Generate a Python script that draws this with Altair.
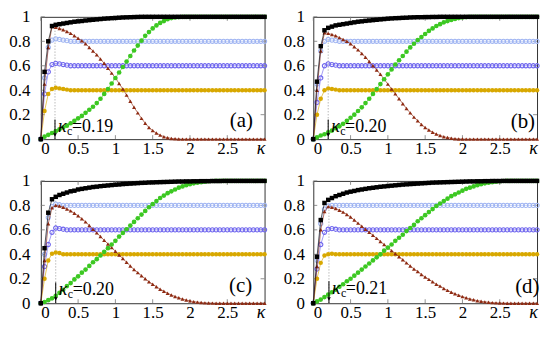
import altair as alt
import pandas as pd

# kappa grid
K = [round(0.05 * i, 2) for i in range(61)]

# ---------------- panel (a) ----------------
A_BLACK = [0, 0.55, 0.80, 0.925, 0.935, 0.94, 0.945, 0.95, 0.955, 0.96,
           0.963, 0.966, 0.97, 0.973, 0.976, 0.979, 0.982, 0.985, 0.987, 0.989,
           0.991, 0.993, 0.995, 0.996, 0.997, 0.998, 0.999, 1, 1, 1,
           1, 1, 1, 1, 1, 1, 1, 1, 1, 1,
           1, 1, 1, 1, 1, 1, 1, 1, 1, 1,
           1, 1, 1, 1, 1, 1, 1, 1, 1, 1, 1]
A_RED = [0, 0.45, 0.75, 0.92, 0.915, 0.905, 0.895, 0.88, 0.865, 0.845,
         0.825, 0.805, 0.78, 0.75, 0.72, 0.69, 0.655, 0.62, 0.58, 0.54,
         0.50, 0.455, 0.41, 0.36, 0.31, 0.26, 0.215, 0.17, 0.13, 0.095,
         0.07, 0.05, 0.033, 0.02, 0.012, 0.006, 0.003, 0.001, 0, 0,
         0, 0, 0, 0, 0, 0, 0, 0, 0, 0,
         0, 0, 0, 0, 0, 0, 0, 0, 0, 0, 0]
A_GREEN = [0, 0.02, 0.035, 0.05, 0.065, 0.08, 0.095, 0.11, 0.13, 0.15,
           0.17, 0.19, 0.215, 0.24, 0.265, 0.295, 0.33, 0.37, 0.41, 0.455,
           0.50, 0.545, 0.59, 0.635, 0.68, 0.725, 0.765, 0.805, 0.845, 0.875,
           0.905, 0.93, 0.95, 0.965, 0.98, 0.99, 0.995, 0.998, 1, 1,
           1, 1, 1, 1, 1, 1, 1, 1, 1, 1,
           1, 1, 1, 1, 1, 1, 1, 1, 1, 1, 1]
A_LB = [0, 0.5, 0.75, 0.81, 0.82, 0.815, 0.81, 0.805] + [0.8] * 53
A_PU = [0, 0.37, 0.55, 0.61, 0.62, 0.615, 0.61, 0.605] + [0.6] * 53
A_GO = [0, 0.23, 0.37, 0.41, 0.42, 0.415, 0.41, 0.405] + [0.4] * 53

# ---------------- panel (b) ----------------
B_BLACK = [0, 0.47, 0.76, 0.89, 0.91, 0.92, 0.93, 0.935, 0.94, 0.945,
           0.95, 0.955, 0.96, 0.963, 0.967, 0.97, 0.973, 0.976, 0.979, 0.982,
           0.985, 0.987, 0.989, 0.99, 0.992, 0.993, 0.995, 0.996, 0.997, 0.997,
           0.998, 0.998, 0.999, 0.999, 1, 1, 1, 1, 1, 1,
           1, 1, 1, 1, 1, 1, 1, 1, 1, 1,
           1, 1, 1, 1, 1, 1, 1, 1, 1, 1, 1]
B_RED = [0, 0.4, 0.72, 0.87, 0.865, 0.855, 0.845, 0.83, 0.815, 0.80,
         0.78, 0.755, 0.73, 0.70, 0.67, 0.635, 0.60, 0.565, 0.53, 0.49,
         0.45, 0.41, 0.37, 0.33, 0.29, 0.25, 0.215, 0.18, 0.15, 0.12,
         0.095, 0.075, 0.057, 0.042, 0.03, 0.02, 0.013, 0.008, 0.004, 0.002,
         0.001, 0, 0, 0, 0, 0, 0, 0, 0, 0,
         0, 0, 0, 0, 0, 0, 0, 0, 0, 0, 0]
B_GREEN = [0, 0.015, 0.03, 0.04, 0.055, 0.07, 0.09, 0.105, 0.125, 0.15,
           0.175, 0.2, 0.23, 0.26, 0.295, 0.33, 0.37, 0.41, 0.45, 0.49,
           0.53, 0.57, 0.61, 0.645, 0.68, 0.715, 0.75, 0.78, 0.81, 0.835,
           0.86, 0.885, 0.905, 0.925, 0.94, 0.955, 0.965, 0.975, 0.983, 0.99,
           0.995, 0.998, 1, 1, 1, 1, 1, 1, 1, 1,
           1, 1, 1, 1, 1, 1, 1, 1, 1, 1, 1]
B_LB = [0, 0.45, 0.72, 0.80, 0.815, 0.81, 0.805] + [0.8] * 54
B_PU = [0, 0.3, 0.5, 0.6, 0.615, 0.61, 0.605] + [0.6] * 54
B_GO = [0, 0.2, 0.33, 0.4, 0.415, 0.41, 0.405] + [0.4] * 54

# ---------------- panel (c) ----------------
C_BLACK = [0, 0.45, 0.74, 0.85, 0.87, 0.885, 0.895, 0.905, 0.915, 0.92,
           0.93, 0.935, 0.94, 0.945, 0.95, 0.953, 0.957, 0.96, 0.963, 0.966,
           0.969, 0.971, 0.974, 0.976, 0.978, 0.98, 0.982, 0.984, 0.985, 0.987,
           0.988, 0.989, 0.99, 0.991, 0.992, 0.993, 0.994, 0.995, 0.995, 0.996,
           0.996, 0.997, 0.997, 0.998, 0.998, 0.998, 0.999, 0.999, 0.999, 1,
           1, 1, 1, 1, 1, 1, 1, 1, 1, 1, 1]
C_RED = [0, 0.35, 0.65, 0.78, 0.80, 0.795, 0.785, 0.77, 0.755, 0.735,
         0.715, 0.69, 0.665, 0.635, 0.605, 0.575, 0.545, 0.515, 0.485, 0.455,
         0.425, 0.395, 0.365, 0.335, 0.305, 0.275, 0.25, 0.225, 0.2, 0.175,
         0.155, 0.135, 0.115, 0.098, 0.082, 0.068, 0.055, 0.044, 0.034, 0.026,
         0.019, 0.013, 0.009, 0.006, 0.003, 0.002, 0.001, 0, 0, 0,
         0, 0, 0, 0, 0, 0, 0, 0, 0, 0, 0]
C_GREEN = [0, 0.01, 0.025, 0.04, 0.06, 0.085, 0.11, 0.14, 0.165, 0.195,
           0.22, 0.25, 0.275, 0.305, 0.335, 0.36, 0.39, 0.42, 0.45, 0.48,
           0.51, 0.545, 0.575, 0.605, 0.635, 0.665, 0.695, 0.725, 0.755, 0.785,
           0.81, 0.835, 0.86, 0.88, 0.9, 0.915, 0.93, 0.945, 0.955, 0.965,
           0.973, 0.98, 0.986, 0.99, 0.994, 0.997, 0.999, 1, 1, 1,
           1, 1, 1, 1, 1, 1, 1, 1, 1, 1, 1]
C_LB = [0, 0.4, 0.7, 0.79, 0.81, 0.805] + [0.8] * 55
C_PU = [0, 0.3, 0.48, 0.58, 0.615, 0.61, 0.605] + [0.6] * 54
C_GO = [0, 0.2, 0.35, 0.405, 0.415, 0.41] + [0.4] * 55

# ---------------- panel (d) ----------------
D_BLACK = [0, 0.38, 0.68, 0.82, 0.845, 0.86, 0.875, 0.885, 0.895, 0.905,
           0.912, 0.918, 0.925, 0.93, 0.935, 0.94, 0.944, 0.948, 0.952, 0.955,
           0.958, 0.961, 0.964, 0.967, 0.97, 0.972, 0.974, 0.976, 0.978, 0.98,
           0.982, 0.984, 0.986, 0.987, 0.988, 0.989, 0.99, 0.991, 0.992, 0.993,
           0.994, 0.995, 0.996, 0.996, 0.997, 0.997, 0.998, 0.998, 0.999, 0.999,
           0.999, 1, 1, 1, 1, 1, 1, 1, 1, 1, 1]
D_RED = [0, 0.3, 0.6, 0.75, 0.79, 0.785, 0.775, 0.76, 0.745, 0.725,
         0.705, 0.68, 0.655, 0.63, 0.605, 0.58, 0.555, 0.53, 0.505, 0.48,
         0.455, 0.43, 0.405, 0.38, 0.355, 0.33, 0.305, 0.28, 0.26, 0.235,
         0.215, 0.195, 0.175, 0.155, 0.14, 0.12, 0.105, 0.09, 0.077, 0.065,
         0.054, 0.044, 0.035, 0.028, 0.021, 0.016, 0.011, 0.008, 0.005, 0.003,
         0.002, 0.001, 0, 0, 0, 0, 0, 0, 0, 0, 0]
D_GREEN = [0, 0.015, 0.03, 0.05, 0.07, 0.09, 0.11, 0.135, 0.155, 0.18,
           0.2, 0.225, 0.25, 0.275, 0.3, 0.325, 0.35, 0.375, 0.4, 0.43,
           0.455, 0.48, 0.51, 0.535, 0.56, 0.59, 0.615, 0.64, 0.67, 0.695,
           0.72, 0.745, 0.77, 0.795, 0.815, 0.835, 0.855, 0.875, 0.89, 0.905,
           0.92, 0.935, 0.945, 0.955, 0.965, 0.973, 0.98, 0.986, 0.99, 0.994,
           0.997, 0.999, 1, 1, 1, 1, 1, 1, 1, 1, 1]
D_LB = [0, 0.35, 0.65, 0.77, 0.795] + [0.8] * 56
D_PU = [0, 0.28, 0.48, 0.58, 0.605, 0.61, 0.605] + [0.6] * 54
D_GO = [0, 0.2, 0.33, 0.39, 0.4, 0.405] + [0.4] * 55

# annotations
PANELS = ["a", "b", "c", "d"]
KC = [0.19, 0.20, 0.20, 0.21]
KC_LABEL_Y = [0.10, 0.10, 0.11, 0.12]
KC_DOT_TOP = [0.92, 0.89, 0.85, 0.82]
LETTER_X = [2.69, 2.81, 2.68, 2.87]
LETTER_Y = [0.15, 0.14, 0.14, 0.13]

SERIES = {
    "a": (A_BLACK, A_RED, A_GREEN, A_LB, A_PU, A_GO),
    "b": (B_BLACK, B_RED, B_GREEN, B_LB, B_PU, B_GO),
    "c": (C_BLACK, C_RED, C_GREEN, C_LB, C_PU, C_GO),
    "d": (D_BLACK, D_RED, D_GREEN, D_LB, D_PU, D_GO),
}

W, H = 225, 123
FONT = "Liberation Serif"
FS = 17

XTICKS = [0, 0.5, 1, 1.5, 2, 2.5]
YTICKS = [0, 0.2, 0.4, 0.6, 0.8, 1]

xaxis = alt.Axis(values=XTICKS, format="~g", labelPadding=1, title="κ",
                 labelFont=FONT, labelFontSize=FS,
                 titleFont=FONT, titleFontStyle="italic", titleFontWeight="normal",
                 titleFontSize=18, titleX=W - 4, titleY=0, titleBaseline="top",
                 titleAlign="center", labelAngle=0)
xs = alt.Scale(domain=[0, 3], nice=False, zero=False)
ys = alt.Scale(domain=[0, 1], nice=False, zero=False)


def panel(i):
    key = PANELS[i]
    yaxis = alt.Axis(values=YTICKS, format="~g", labelPadding=11 if i % 2 == 0 else 9,
                     title=None, labelFont=FONT, labelFontSize=FS)
    blk, red, grn, lb, pu, go = SERIES[key]
    for s in (blk, red, grn, lb, pu, go):
        assert len(s) == 61, (key, len(s))
    df = pd.DataFrame({"k": K, "blk": blk, "red": red, "grn": grn,
                       "lb": lb, "pu": pu, "go": go})
    base = alt.Chart(df)

    def X():
        return alt.X("k:Q", scale=xs, axis=xaxis)

    def Y(f):
        return alt.Y(f + ":Q", scale=ys, axis=yaxis)

    layers = []
    tdf_y = pd.DataFrame({"v": YTICKS})
    tdf_x = pd.DataFrame({"v": XTICKS})
    tick_col = "#777777"
    layers.append(alt.Chart(tdf_y).mark_rule(color=tick_col, strokeWidth=0.8).encode(
        y=alt.Y("v:Q", scale=ys, axis=yaxis), x=alt.value(0), x2=alt.value(4)))
    layers.append(alt.Chart(tdf_y).mark_rule(color=tick_col, strokeWidth=0.8).encode(
        y=alt.Y("v:Q", scale=ys, axis=yaxis), x=alt.value(W - 4), x2=alt.value(W)))
    layers.append(alt.Chart(tdf_x).mark_rule(color=tick_col, strokeWidth=0.8).encode(
        x=alt.X("v:Q", scale=xs, axis=xaxis), y=alt.value(H), y2=alt.value(H - 4)))
    layers.append(alt.Chart(tdf_x).mark_rule(color=tick_col, strokeWidth=0.8).encode(
        x=alt.X("v:Q", scale=xs, axis=xaxis), y=alt.value(0), y2=alt.value(4)))

    adf = pd.DataFrame({"kc": [KC[i]], "ly": [KC_LABEL_Y[i]], "top": [KC_DOT_TOP[i]],
                        "zero": [0.0], "ash": [KC_LABEL_Y[i] + 0.06], "ahead": [0.035],
                        "lx": [LETTER_X[i]], "lyy": [LETTER_Y[i]],
                        "val": ["=%.2f" % KC[i]], "letter": ["(%s)" % key]})
    ab = alt.Chart(adf)
    layers.append(ab.mark_rule(color="#999999", strokeWidth=1, strokeDash=[1, 2]).encode(
        x=alt.X("kc:Q", scale=xs, axis=xaxis), y=alt.Y("zero:Q", scale=ys, axis=yaxis),
        y2="top:Q"))

    specs = [
        ("lb", "#9fb4f2", "circle", False, 18),
        ("pu", "#6f66ee", "circle", False, 18),
        ("go", "#d8a800", "circle", True, 20),
        ("red", "#8e2a12", "triangle-up", True, 16),
        ("grn", "#3cc822", "circle", True, 22),
        ("blk", "#000000", "square", True, 20),
    ]
    for f, col, shape, filled, size in specs:
        layers.append(base.mark_line(color=col, strokeWidth=0.8, opacity=0.8).encode(
            x=X(), y=Y(f)))
        if filled:
            layers.append(base.mark_point(shape=shape, filled=True, size=size, color=col,
                                          opacity=1).encode(x=X(), y=Y(f)))
        else:
            layers.append(base.mark_point(shape=shape, filled=False, size=size, color=col,
                                          strokeWidth=1.1, opacity=1).encode(x=X(), y=Y(f)))

    layers.append(ab.mark_rule(color="black", strokeWidth=1).encode(
        x=alt.X("kc:Q", scale=xs, axis=xaxis), y=alt.Y("ash:Q", scale=ys, axis=yaxis),
        y2="zero:Q"))
    layers.append(ab.mark_point(shape="triangle-down", filled=True, size=14,
                                color="black", opacity=1).encode(
        x=alt.X("kc:Q", scale=xs, axis=xaxis), y=alt.Y("ahead:Q", scale=ys, axis=yaxis)))
    layers.append(ab.mark_text(text="κ", font=FONT, fontSize=18, fontStyle="italic",
                               align="left", baseline="middle", dx=3, color="black").encode(
        x=alt.X("kc:Q", scale=xs, axis=xaxis), y=alt.Y("ly:Q", scale=ys, axis=yaxis)))
    layers.append(ab.mark_text(text="c", font=FONT, fontSize=12,
                               align="left", baseline="middle", dx=12, dy=4,
                               color="black").encode(
        x=alt.X("kc:Q", scale=xs, axis=xaxis), y=alt.Y("ly:Q", scale=ys, axis=yaxis)))
    layers.append(ab.mark_text(font=FONT, fontSize=18, align="left", baseline="middle",
                               dx=17, color="black").encode(
        x=alt.X("kc:Q", scale=xs, axis=xaxis), y=alt.Y("ly:Q", scale=ys, axis=yaxis),
        text="val:N"))
    layers.append(ab.mark_text(font=FONT, fontSize=21, align="center", baseline="middle",
                               color="black").encode(
        x=alt.X("lx:Q", scale=xs, axis=xaxis), y=alt.Y("lyy:Q", scale=ys, axis=yaxis),
        text="letter:N"))

    return alt.layer(*layers).properties(width=W, height=H)


top = alt.hconcat(panel(0), panel(1), spacing=13)
bot = alt.hconcat(panel(2), panel(3), spacing=13)
chart = alt.vconcat(top, bot, spacing=13).properties(
    padding={"left": 0, "top": -2, "right": 0, "bottom": 0},
    background="white",
).configure_view(stroke="#333333", strokeWidth=1).configure_axis(
    labelFont=FONT, labelFontSize=FS, labelColor="black", grid=False,
    domain=False, ticks=False,
)

chart.save("out.html", embed_options={"renderer": "svg", "actions": False})
